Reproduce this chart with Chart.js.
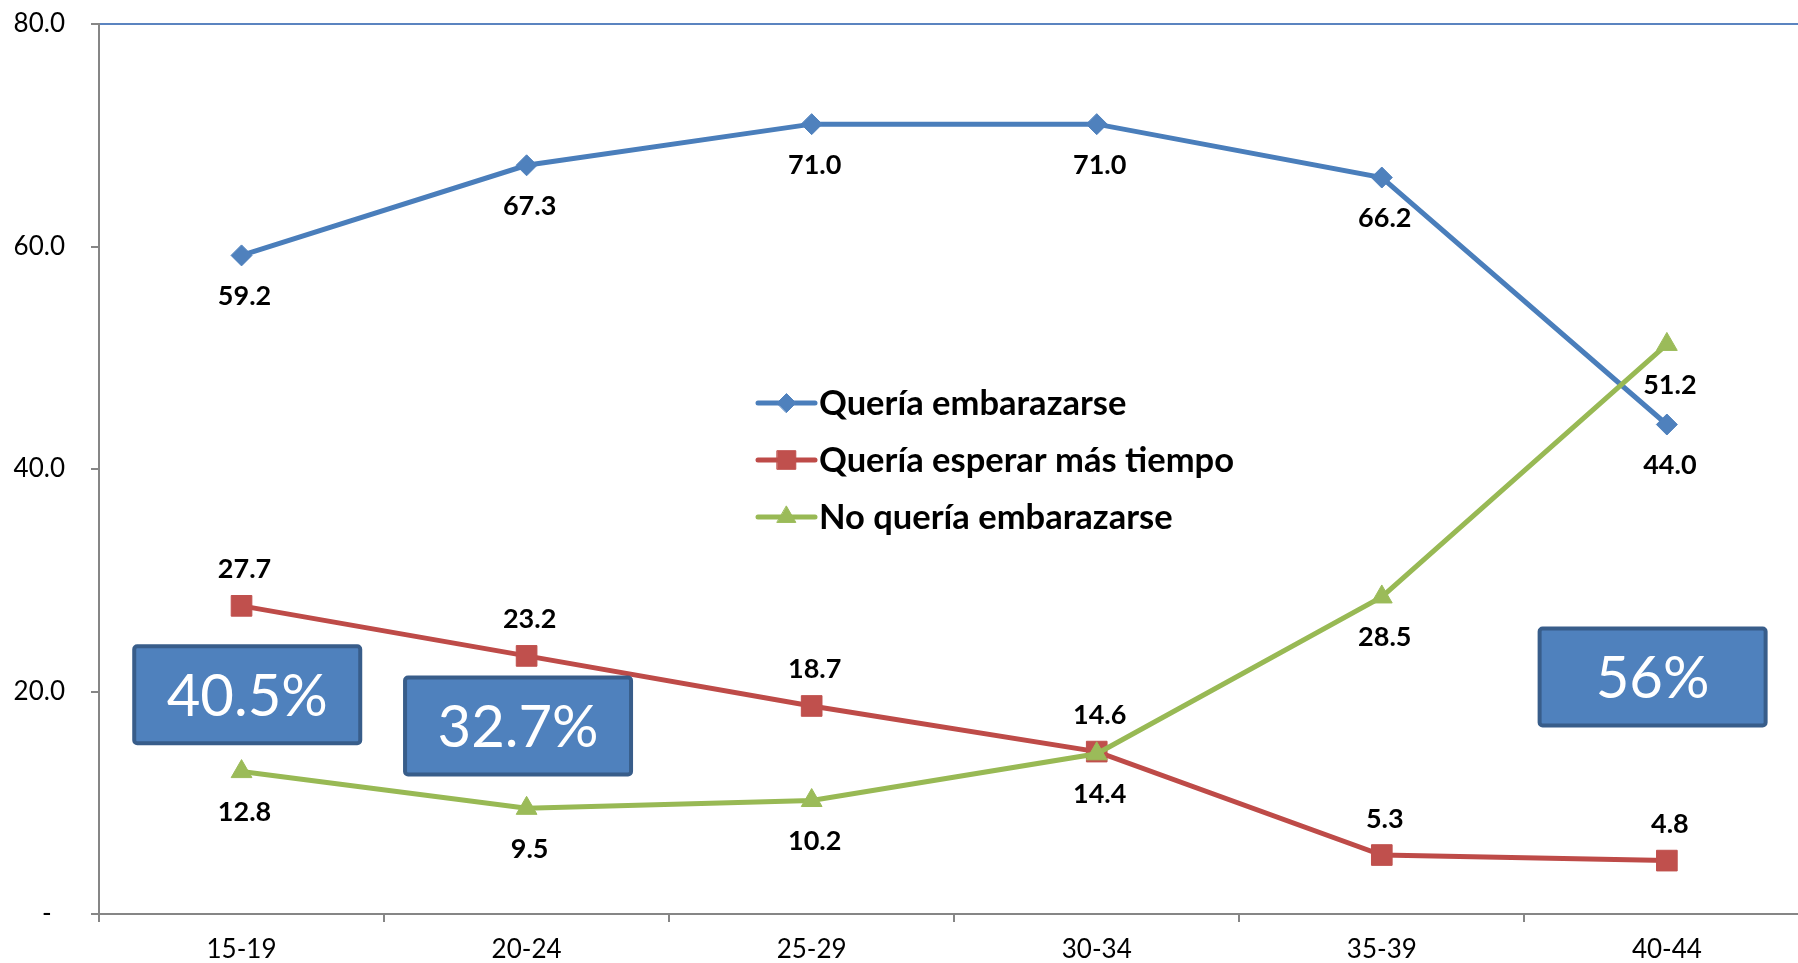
<!DOCTYPE html>
<html>
<head>
<meta charset="utf-8">
<script src="https://cdn.jsdelivr.net/npm/chart.js@4.4.1/dist/chart.umd.min.js"></script>
<style>
  html, body { margin: 0; padding: 0; background: #fff; overflow: hidden; }
  #wrap { position: relative; width: 1825px; height: 963px; }
</style>
</head>
<body>
<div id="wrap"><canvas id="chart"></canvas></div>
<script>
// Age groups and the three answers (percent)
const ageGroups = ['15-19', '20-24', '25-29', '30-34', '35-39', '40-44'];
const queriaEmbarazarse = [59.2, 67.3, 71.0, 71.0, 66.2, 44.0];
const queriaEsperar = [27.7, 23.2, 18.7, 14.6, 5.3, 4.8];
const noQueriaEmbarazarse = [12.8, 9.5, 10.2, 14.4, 28.5, 51.2];
const seriesNames = ['Quería embarazarse', 'Quería esperar más tiempo', 'No quería embarazarse'];

// Callout boxes, anchored in data units (category index, value)
const calloutTexts = ['40.5%', '32.7%', '56%'];
const calloutAnchors = [[0.02, 19.7], [0.97, 16.9], [4.95, 21.3]];

Chart.defaults.font.family = 'Lato, "Open Sans", sans-serif';
Chart.defaults.color = '#000';

/**
 * Draws the value next to each point, above or below depending on the series
 */
const valueLabels = {
    id: 'valueLabels',
    afterDatasetsDraw(chart) {
        const ctx = chart.ctx;
        ctx.save();
        ctx.font = 'bold 27px Lato';
        ctx.fillStyle = '#000';
        ctx.textAlign = 'center';
        ctx.textBaseline = 'alphabetic';
        chart.data.datasets.forEach((ds, i) => {
            const meta = chart.getDatasetMeta(i);
            meta.data.forEach((pt, j) => {
                const dy = ds.labelSide === 'above' ? -37 : 40;
                ctx.fillText(ds.data[j].toFixed(1), pt.x + 3, pt.y + dy + 9.5);
            });
        });
        ctx.restore();
    }
};

/**
 * Blue callout boxes with the percentages
 */
const callouts = {
    id: 'callouts',
    afterDatasetsDraw(chart) {
        const { ctx, scales } = chart;
        const w = 226, h = 97;
        ctx.save();
        calloutTexts.forEach((text, i) => {
            const cx = scales.x.getPixelForValue(calloutAnchors[i][0]);
            const cy = scales.y.getPixelForValue(calloutAnchors[i][1]);
            ctx.beginPath();
            ctx.roundRect(cx - w / 2, cy - h / 2, w, h, 3);
            ctx.fillStyle = '#4F81BD';
            ctx.fill();
            ctx.lineWidth = 4;
            ctx.strokeStyle = '#385D8A';
            ctx.stroke();
            ctx.font = '58px Lato';
            ctx.fillStyle = '#fff';
            ctx.textAlign = 'center';
            ctx.textBaseline = 'alphabetic';
            ctx.fillText(text, cx, cy + 21);
        });
        ctx.restore();
    }
};

/**
 * Legend drawn inside the plot area
 */
const innerLegend = {
    id: 'innerLegend',
    afterDraw(chart) {
        const ctx = chart.ctx;
        const x0 = 758, x1 = 815, textX = 819, rowY = [403, 460, 517];
        ctx.save();
        chart.data.datasets.forEach((ds, i) => {
            const y = rowY[i];
            ctx.beginPath();
            ctx.lineCap = 'round';
            ctx.lineWidth = ds.borderWidth;
            ctx.strokeStyle = ds.borderColor;
            ctx.moveTo(x0, y);
            ctx.lineTo(x1, y);
            ctx.stroke();
            ctx.fillStyle = ds.pointBackgroundColor;
            ctx.strokeStyle = ds.pointBackgroundColor;
            ctx.lineWidth = 1;
            Chart.helpers.drawPoint(ctx, {
                pointStyle: ds.pointStyle,
                radius: ds.pointRadius * 0.9,
                borderWidth: 1,
                rotation: 0
            }, (x0 + x1) / 2, y);
            ctx.font = 'bold 34.5px Lato';
            ctx.fillStyle = '#000';
            ctx.textAlign = 'left';
            ctx.textBaseline = 'alphabetic';
            ctx.fillText(ds.label, textX, y + 12);
        });
        ctx.restore();
    }
};

const ctx = document.getElementById('chart').getContext('2d');
new Chart(ctx, {
    type: 'line',
    data: {
        labels: ageGroups,
        datasets: [
            {
                label: seriesNames[0],
                data: queriaEmbarazarse,
                borderColor: '#4A7EBB',
                borderWidth: 5,
                pointStyle: 'rectRot',
                pointRadius: 10.5,
                pointBackgroundColor: '#4F81BD',
                pointBorderColor: '#4F81BD',
                pointBorderWidth: 1,
                labelSide: 'below',
                order: 3
            },
            {
                label: seriesNames[1],
                data: queriaEsperar,
                borderColor: '#BE4B48',
                borderWidth: 5,
                pointStyle: 'rect',
                pointRadius: 14.6,
                pointBackgroundColor: '#C0504D',
                pointBorderColor: '#C0504D',
                pointBorderWidth: 1,
                labelSide: 'above',
                order: 2
            },
            {
                label: seriesNames[2],
                data: noQueriaEmbarazarse,
                borderColor: '#98B954',
                borderWidth: 5,
                pointStyle: 'triangle',
                pointRadius: 12,
                pointBackgroundColor: '#9BBB59',
                pointBorderColor: '#9BBB59',
                pointBorderWidth: 1,
                labelSide: 'below',
                order: 1
            }
        ]
    },
    options: {
        responsive: true,
        maintainAspectRatio: false,
        animation: false,
        layout: { padding: { top: 24, left: 0, right: 0, bottom: 0 } },
        plugins: {
            legend: { display: false },
            tooltip: { enabled: false }
        },
        elements: { line: { tension: 0 } },
        scales: {
            x: {
                offset: true,
                grid: {
                    offset: true,
                    drawOnChartArea: false,
                    drawTicks: true,
                    tickLength: 8,
                    color: '#868686',
                    lineWidth: 2
                },
                border: { color: '#868686', width: 2 },
                ticks: { font: { size: 26 }, padding: 12, color: '#000', maxRotation: 0 },
                afterFit(scale) { scale.height = 49; }
            },
            y: {
                min: 0,
                max: 80,
                grid: {
                    color: c => (c.tick && c.tick.value === 80 ? '#5B84C0' : 'rgba(0,0,0,0)'),
                    tickColor: '#868686',
                    tickLength: 8,
                    lineWidth: 2
                },
                border: { color: '#868686', width: 2 },
                ticks: {
                    stepSize: 20,
                    padding: 26,
                    font: { size: 26 },
                    color: '#000',
                    callback: v => (v === 0 ? '-  ' : v.toFixed(1))
                },
                afterFit(scale) {
                    scale.width = 99;
                    scale.paddingTop = 0;
                    scale.paddingBottom = 0;
                }
            }
        }
    },
    plugins: [callouts, valueLabels, innerLegend]
});
</script>
</body>
</html>
